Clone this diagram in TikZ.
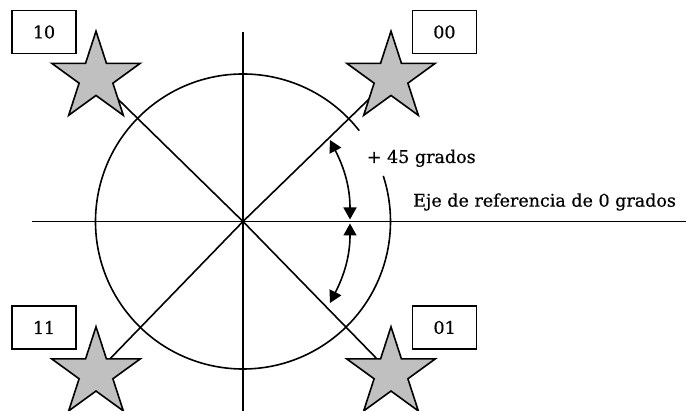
\documentclass[tikz,border=0pt]{standalone}
\usepackage{fontspec}
\setmainfont[FakeBold=0.6]{DejaVu Serif}
\usetikzlibrary{shapes.geometric,arrows.meta}
\definecolor{stargray}{RGB}{192,192,192}
\tikzset{
  ln/.style={line width=1.6pt},
  starnode/.style={star, star points=5, star point ratio=2.618, minimum size=93pt, inner sep=0pt, draw=black, line width=1.6pt, fill=stargray},
  labelbox/.style={draw=black, line width=1.6pt, minimum width=64pt, minimum height=43pt, inner sep=0pt, font=\fontsize{17.5pt}{20pt}\selectfont},
  txt/.style={anchor=base west, inner sep=0pt, font=\fontsize{17.5pt}{20pt}\selectfont},
  angarrow/.style={line width=1.6pt, {Triangle[length=12pt,width=13pt]}-{Triangle[length=12pt,width=13pt]}}
}
\begin{document}
\begin{tikzpicture}[x=1pt,y=1pt]
\useasboundingbox (0,0) rectangle (686,411);
\coordinate (C) at (243,189.5);
\coordinate (hL) at (32,189.5);
\coordinate (hR) at (686,189.5);
\coordinate (vT) at (243,379);
\coordinate (vB) at (243,0);
% axes
\draw[ln] (hL) -- (hR);
\draw[ln] (vT) -- (vB);
% circle with gap
\draw[ln] ([shift={(38:147.5)}]C) arc[start angle=38, end angle=378, radius=147.5];
% star positions
\coordinate (p10) at (96,333.3);
\coordinate (p00) at (391,333.3);
\coordinate (p11) at (96,37.7);
\coordinate (p01) at (391,37.7);
% diagonals
\draw[ln] (C) -- (p10);
\draw[ln] (C) -- (p00);
\draw[ln] (C) -- (p11);
\draw[ln] (C) -- (p01);
% stars
\node[starnode] (s10) at (p10) {};
\node[starnode] (s00) at (p00) {};
\node[starnode] (s11) at (p11) {};
\node[starnode] (s01) at (p01) {};
% boxes
\node[labelbox] (b10) at (44,379) {10};
\node[labelbox] (b00) at (444.4,379) {00};
\node[labelbox] (b11) at (44,83.5) {11};
\node[labelbox] (b01) at (444.6,83.5) {01};
% angle arrows
\coordinate (A1) at (330,271);
\coordinate (B1) at (350,191.5);
\coordinate (B2) at (350,187.5);
\coordinate (A2) at (330,108);
\draw[angarrow] (A1) to[out=-63,in=90] (B1);
\draw[angarrow] (B2) to[out=-90,in=63] (A2);
% texts
\node[txt] (t45) at (366.7,248) {+ 45 grados};
\node[txt] (teje) at (413,204.3) {Eje de referencia de 0 grados};
\end{tikzpicture}
\end{document}
